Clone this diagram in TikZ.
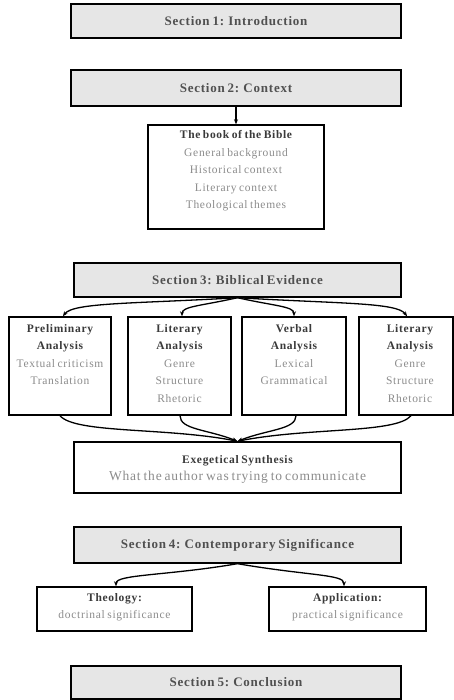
\documentclass[tikz,border=0pt]{standalone}
\usepackage{fontspec}
\setmainfont{Liberation Serif}[LetterSpace=6,WordSpace=0.7]
\usetikzlibrary{arrows.meta}
\definecolor{secfill}{HTML}{E6E6E6}
\definecolor{sectext}{HTML}{505050}
\definecolor{headc}{HTML}{3A3A3A}
\definecolor{itemc}{HTML}{8C8C8C}
\newcommand\headtxt[1]{{\bfseries\color{headc}#1}}
\begin{document}
\begin{tikzpicture}[x=1pt,y=1pt,
  secbox/.style={draw=black,line width=1.4pt,fill=secfill,inner sep=0pt,
    text=sectext,font=\bfseries\fontsize{13}{15}\selectfont},
  plainbox/.style={draw=black,line width=1.4pt,fill=white,inner sep=0pt},
  boxtext/.style={anchor=north,align=center,inner sep=0pt,text=itemc,
    font=\fontsize{11.5}{17.5}\selectfont},
  link/.style={line width=1.3pt,-{Stealth[length=5pt,width=4pt]}}]
\useasboundingbox (0,0) rectangle (454,700);

% section headers
\node[secbox,minimum width=330pt,minimum height=34pt] (s1) at (236,679) {Section 1: Introduction};
\node[secbox,minimum width=330pt,minimum height=36pt] (s2) at (236,612) {Section 2: Context};
\node[secbox,minimum width=327pt,minimum height=34pt] (s3) at (237.5,420) {Section 3: Biblical Evidence};
\node[secbox,minimum width=327pt,minimum height=36pt] (s4) at (237.5,155) {Section 4: Contemporary Significance};
\node[secbox,minimum width=330pt,minimum height=33pt] (s5) at (236,17.5) {Section 5: Conclusion};

% context box
\node[plainbox,minimum width=176pt,minimum height=104pt] (bible) at (236,523) {};
\node[boxtext] (bibletxt) at ([yshift=-6pt]bible.north)
  {\headtxt{The book of the Bible}\\General background\\Historical context\\Literary context\\Theological themes};

% analysis boxes
\node[plainbox,minimum width=102pt,minimum height=98pt] (b1) at (60,334) {};
\node[plainbox,minimum width=103pt,minimum height=98pt] (b2) at (179.5,334) {};
\node[plainbox,minimum width=104pt,minimum height=98pt] (b3) at (294,334) {};
\node[plainbox,minimum width=94pt,minimum height=98pt] (b4) at (406,334) {};
\node[boxtext] (b1txt) at ([yshift=-8pt]b1.north)
  {\headtxt{Preliminary}\\\headtxt{Analysis}\\Textual criticism\\Translation};
\node[boxtext] (b2txt) at ([yshift=-8pt]b2.north)
  {\headtxt{Literary}\\\headtxt{Analysis}\\Genre\\Structure\\Rhetoric};
\node[boxtext] (b3txt) at ([yshift=-8pt]b3.north)
  {\headtxt{Verbal}\\\headtxt{Analysis}\\Lexical\\Grammatical};
\node[boxtext] (b4txt) at ([yshift=-8pt,xshift=4pt]b4.north)
  {\headtxt{Literary}\\\headtxt{Analysis}\\Genre\\Structure\\Rhetoric};

% synthesis
\node[plainbox,minimum width=327pt,minimum height=51pt] (syn) at (237.5,232.5) {};
\node[boxtext] (syntxt) at ([yshift=-14pt]syn.north)
  {\headtxt{Exegetical Synthesis}\\{\fontsize{13.5}{17.5}\selectfont What the author was trying to communicate}};

% significance boxes
\node[plainbox,minimum width=155pt,minimum height=44pt] (theo) at (114.5,91) {};
\node[plainbox,minimum width=157pt,minimum height=44pt] (app) at (347.5,91) {};
\node[boxtext] (theotxt) at ([yshift=-7pt]theo.north)
  {\headtxt{Theology:}\\doctrinal significance};
\node[boxtext] (apptxt) at ([yshift=-7pt]app.north)
  {\headtxt{Application:}\\practical significance};

% anchor points for the connectors
\coordinate (b1top) at ([xshift=3pt]b1.north);
\coordinate (b2top) at ([xshift=2.5pt]b2.north);
\coordinate (b3top) at (b3.north);
\coordinate (b4top) at ([xshift=1pt]b4.north);
\coordinate (b1bot) at (b1.south);
\coordinate (b2bot) at ([xshift=0.5pt]b2.south);
\coordinate (b3bot) at ([xshift=2pt]b3.south);
\coordinate (b4bot) at ([xshift=5pt]b4.south);
\coordinate (theotop) at ([xshift=1.5pt]theo.north);
\coordinate (apptop) at ([xshift=-3.5pt]app.north);

% connectors
\draw[link] (s2.south) -- (bible.north);

\draw[link] (s3.south) .. controls +(-100,-6) and +(10,14) .. (b1top);
\draw[link] (s3.south) .. controls +(-35,-8) and +(0,10) .. (b2top);
\draw[link] (s3.south) .. controls +(35,-8) and +(0,10) .. (b3top);
\draw[link] (s3.south) .. controls +(100,-6) and +(-10,14) .. (b4top);

\draw[link] (b1bot) .. controls +(15,-18) and +(-70,14) .. (syn.north);
\draw[link] (b2bot) .. controls +(0,-14) and +(-30,12) .. (syn.north);
\draw[link] (b3bot) .. controls +(0,-14) and +(30,12) .. (syn.north);
\draw[link] (b4bot) .. controls +(-15,-18) and +(70,14) .. (syn.north);

\draw[link] (s4.south) .. controls +(-70,-12) and +(0,12) .. (theotop);
\draw[link] (s4.south) .. controls +(70,-12) and +(0,12) .. (apptop);
\end{tikzpicture}
\end{document}
